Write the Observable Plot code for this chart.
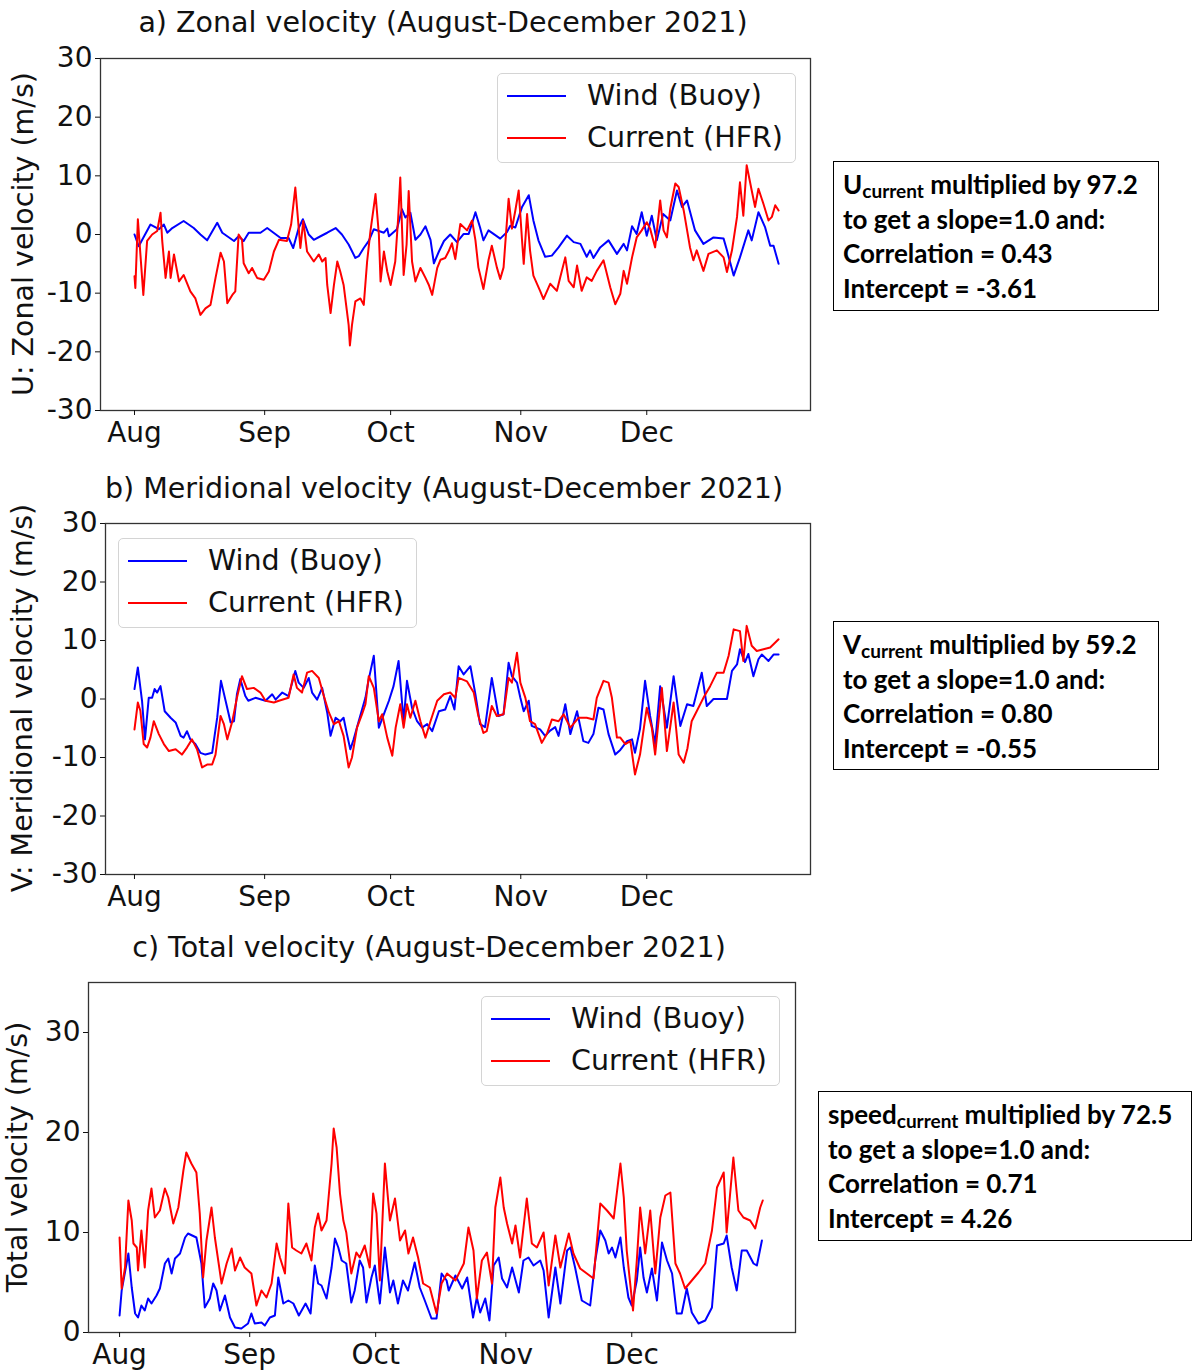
<!DOCTYPE html>
<html>
<head>
<meta charset="utf-8">
<script src="https://cdn.jsdelivr.net/npm/d3@7"></script>
<script src="https://cdn.jsdelivr.net/npm/@observablehq/plot@0.6"></script>
<style>
  body { margin: 0; background: #fff; }
  #page { position: relative; width: 1192px; height: 1372px; overflow: hidden; font-family: "DejaVu Sans", sans-serif; color: #111; }
  .abs { position: absolute; }
  .title { font-size: 28.5px; white-space: nowrap; transform: translate(-50%, -50%); }
  .ylab { font-size: 28.5px; white-space: nowrap; transform: translate(-50%, -50%) rotate(-90deg); }
  .legend { position: absolute; box-sizing: border-box; border: 1.5px solid #d4d4d4; border-radius: 5px; background: rgba(255,255,255,0.85); width: 299px; height: 90px; }
  .legend .item { position: absolute; left: 0; height: 30px; width: 100%; }
  .legend svg { position: absolute; left: 9px; top: 0; }
  .legend span { position: absolute; left: 89px; top: 0; line-height: 30px; font-size: 28.5px; white-space: nowrap; }
  .box { position: absolute; box-sizing: border-box; border: 1.5px solid #000; background: #fff; font-family: Lato, "Open Sans", sans-serif; font-weight: 700; font-size: 26px; line-height: 34.5px; padding: 5px 0 0 9px; color: #000; white-space: nowrap; }
  .box sub { font-size: 19px; vertical-align: -4px; line-height: 0; font-weight: 700; }
</style>
</head>
<body>
<div id="page"></div>
<script>
// ---------------- DATA (day offset from 1 Aug 2021, value) ----------------
const monthLabels = ["Aug", "Sep", "Oct", "Nov", "Dec"];
const seriesNames = ["Wind (Buoy)", "Current (HFR)"];

// a) Zonal velocity U (m/s)
const uWind = [[0,0],[1,-2],[3.8,1.7],[5.8,0.9],[7,1.7],[7.8,0.3],[9,1.1],[11.7,2.3],[14.1,1.1],[15.7,0],[17.3,-1],[19.7,2],[20.9,0.3],[23.7,-1.1],[24.8,-0.3],[26,-1.1],[27.2,0.3],[30,0.3],[31.6,1.1],[34.8,-0.6],[36.7,-0.6],[37.8,-2.3],[39.1,1.1],[40.1,2.6],[41.5,0],[42.7,-0.9],[44.3,-0.3],[45.9,0.3],[47.9,1.1],[49.4,0],[51,-1.7],[52.6,-4],[53.4,-3.7],[54.6,-2.3],[55.8,-1.1],[57,0.9],[59.4,0.3],[60.2,1],[60.6,-0.3],[62.5,0.9],[63.7,4.3],[64.5,2.9],[65.7,3.7],[66.9,-0.9],[68.1,0],[69.3,1.4],[70.5,-0.9],[71.3,-4.9],[72.5,-2.9],[73.7,-1.1],[75.2,0],[76.8,-1.3],[78.4,0.1],[79.6,0.1],[81.2,3.8],[82.3,1.2],[83.1,-1],[84.3,0.7],[85.5,0.1],[87.1,-0.7],[88.7,0.4],[89.5,1.5],[90.7,1.2],[92.3,4.7],[93.9,6.7],[95,2.4],[96.2,-1],[97.8,-3.8],[99.4,-3.6],[101,-2.2],[103,-0.2],[104.6,-1.3],[106.2,-1.6],[107.7,-3.8],[108.5,-2.7],[109.3,-4],[110.9,-2.2],[112.9,-1],[114.9,-3.3],[116.5,-1.6],[117.3,-2.7],[118.5,1.4],[119.6,0.1],[120.8,3.8],[122,-0.2],[123.2,3.2],[124.4,-1],[125.9,3.5],[127.6,2.4],[129.2,7.5],[130.4,4.7],[131.6,5.8],[133.5,0.7],[135.5,-1.6],[137.9,-0.5],[140.3,-0.7],[141.1,-2.7],[142.7,-7],[144.2,-3.9],[146.2,0.7],[147,-1],[148.6,3.8],[150.2,1.2],[151.4,-1.9],[152.2,-1.9],[153.4,-5]];
const uCurrent = [[0,-7.1],[0.2,-9.1],[0.8,2.6],[2.1,-10.3],[3,-1.1],[4.2,0],[5.4,0.6],[6.2,3.7],[6.6,-1.1],[7.4,-7.4],[8.2,-2.9],[8.6,-7.4],[9.4,-3.4],[10.6,-8],[11.7,-6.9],[13.3,-9.7],[14.5,-10.9],[15.7,-13.7],[16.9,-12.6],[18.1,-12],[19.3,-7.4],[20.5,-3.1],[21.3,-4.6],[22.1,-11.7],[23.3,-10.3],[24,-9.7],[24.8,0],[25.6,-0.9],[26,-4.9],[27.2,-6.6],[28,-5.7],[29.2,-7.4],[30.8,-7.7],[32,-6.3],[33.2,-2.9],[34.4,-0.9],[36.3,-1.1],[37.3,1.7],[38.3,8],[38.9,2.9],[39.5,-2.3],[40.2,2.3],[41.1,-2.9],[42.7,-4.6],[43.9,-3.4],[44.7,-4.6],[45.5,-4],[45.9,-8.6],[46.7,-13.4],[47.5,-8.6],[48.3,-4.6],[49,-6.3],[49.8,-8.6],[51,-15.4],[51.3,-18.9],[51.8,-15.4],[52.6,-11.4],[53.8,-10.9],[54.6,-12],[55.4,-4.6],[56.2,0.6],[57.4,6.9],[58.2,0],[58.6,-8],[59.4,-2.9],[60.2,-6.3],[61,-8.6],[62.1,-4.6],[62.8,2.9],[63.3,9.7],[64.1,-6.9],[64.8,-1.7],[65.3,7.4],[66.1,-4.6],[66.9,-8],[68.1,-5.7],[69.3,-7.4],[70.1,-8.6],[70.9,-10.3],[72.1,-5.7],[72.9,-4.3],[74,-4],[74.8,-2.9],[75.6,-1.5],[76.4,-4.2],[77.6,1.8],[79.2,0.7],[80.4,2.4],[81.2,-1],[81.9,-5.6],[83.1,-9.3],[84.3,-4.4],[85.1,-1.9],[86.3,-5.6],[87.1,-7.6],[87.9,-5.6],[88.3,-1.6],[89.1,6.1],[89.9,1],[90.7,4.1],[91.5,7.5],[92.3,-1],[92.7,-5],[93.5,3.5],[94.2,-2.7],[95,-7],[96.6,-9.6],[97.4,-11],[99,-8.4],[100.6,-9.6],[101.4,-7.3],[102.6,-3.9],[103.4,-7.9],[104.6,-9],[105.4,-5.3],[106.5,-9.6],[107.7,-7.3],[108.9,-7.9],[110.1,-6.2],[111.7,-4.4],[113.3,-9],[114.5,-11.9],[115.7,-10.1],[116.5,-6.2],[117.3,-8.4],[118.5,-3.9],[119.6,-0.5],[120.8,0.7],[122,2.1],[122.8,1],[124,-2.2],[125.2,5.8],[126,0.7],[126.8,-0.5],[127.6,4.4],[128.8,8.7],[129.6,8.1],[130.8,4.1],[132.3,-2.2],[133.1,-4.4],[133.9,-2.7],[135.5,-6.2],[136.7,-3.3],[138.7,-2.7],[140.3,-3.9],[141.1,-6.4],[142.3,-2.7],[143.5,3],[144.2,8.9],[145,3.2],[145.8,11.8],[147,7.5],[147.8,4.7],[148.6,7.8],[149.8,5.2],[151,2.4],[151.8,3],[152.6,5],[153.4,4.1]];

// b) Meridional velocity V (m/s)
const vWind = [[0,1.7],[0.8,5.4],[1.8,-0.3],[2.5,-6.9],[3.4,0.2],[4.2,0.2],[4.8,1.7],[5.4,1.1],[6.2,2.2],[7.2,-2.1],[8.6,-3.2],[9.8,-4],[11,-6.3],[11.7,-6.6],[12.5,-5.5],[13.3,-6.9],[14.5,-7.7],[15.7,-9.2],[16.9,-9.5],[18.5,-9.2],[19.7,-3.2],[20.6,3.1],[21.7,-0.3],[22.9,-4],[23.7,-3.8],[24.4,0.8],[25.2,3.4],[26.4,0.5],[27.1,-0.3],[28.8,0.2],[31.2,-0.3],[32.8,0.8],[33.6,-0.1],[35.2,1.1],[36.7,0.5],[38.3,4.8],[39.1,2.8],[40.3,1.9],[41.5,3.6],[42.3,1.1],[43.5,-0.1],[44.7,1.9],[45.9,-2.3],[46.7,-6.3],[47.9,-3.2],[49,-3.8],[49.8,-3.2],[50.6,-6],[51.4,-8.6],[52.2,-6.9],[53.4,-3.8],[55,0.2],[55.8,3.4],[57,7.4],[58.2,-4.9],[59.4,-2.6],[60.6,-0.3],[61.7,2.2],[62.9,6.5],[64.1,-3.8],[64.9,3.1],[66.1,-1.5],[67.3,-3.8],[68.5,-4.9],[69.7,-4.3],[70.9,-5.5],[72.5,-2.1],[74,-1.8],[75.2,0.5],[76.2,-1.8],[77.2,5.6],[78.4,4.2],[80,5.6],[81.2,0.8],[82.3,-4.3],[83.5,-4.8],[85.1,3.6],[86.7,-2.9],[87.9,-2.6],[89.1,6.2],[89.9,3.9],[91.1,2.8],[91.9,0.2],[92.7,-2.1],[93.9,-0.3],[94.6,-4.6],[96.6,-5.2],[97.8,-6.3],[99,-5.4],[100.2,-4.8],[101,-6.3],[102.6,-0.9],[103.8,-6],[105.4,-2.1],[106.9,-7.2],[108.1,-7.5],[109.3,-6],[110.5,-1.5],[111.7,-1.8],[112.9,-6],[114.5,-9.5],[115.7,-8.7],[117.3,-7.2],[118.5,-6.9],[119.2,-9.2],[120.4,-5.1],[121.6,3.1],[122.8,-2.9],[124,-7.7],[125.2,2.2],[126.8,-4.9],[128.4,3.9],[130,-4.6],[131.6,-0.9],[133.1,-1.2],[135.1,4.5],[136.3,-1.2],[137.9,0],[139.5,0],[141.1,0],[142.3,4.8],[143.5,5.9],[144.2,8.5],[145.4,6.3],[146.2,7.7],[147.4,3.9],[148.6,6.8],[149.4,7.6],[151,6.5],[152.2,7.6],[153.4,7.6]];
const vCurrent = [[0,-5.2],[0.8,-0.6],[1.4,-2],[2.2,-7.7],[3,-8.3],[3.8,-6.6],[4.6,-3.8],[5.8,-6],[7,-7.7],[8.2,-8.9],[9.8,-8.6],[11.3,-9.5],[12.5,-8.3],[13.7,-6.9],[14.9,-8.6],[16.1,-11.7],[17.3,-11.2],[18.5,-11.2],[19.3,-9.5],[20.5,-2.9],[21.3,-4.3],[22.1,-6.9],[23.3,-3.8],[24.4,0.2],[25.6,3.9],[26.8,1.7],[28.4,1.9],[30,1.1],[31.2,-0.3],[33.2,-0.6],[34.4,-0.3],[36.7,0.2],[37.9,4.2],[38.7,1.9],[39.9,1.1],[41.1,4.5],[42.3,4.8],[43.9,3.6],[45.1,0.5],[46.3,-2.3],[47.5,-4.3],[48.7,-3.8],[49.8,-6.3],[51,-11.7],[51.8,-10],[53,-4.9],[54.2,-2.6],[55,-0.9],[55.8,3.9],[57,1.9],[58.2,-3.8],[59,-2.6],[60.2,-6.6],[61.4,-9.7],[62.2,-4.9],[63.3,-0.9],[64.1,-4.9],[64.9,-0.9],[65.7,-3.2],[66.9,-0.3],[68.1,-3.8],[69.3,-6.6],[70.5,-3.8],[72.1,-0.3],[73.7,0.8],[75.2,1.1],[76.4,0.2],[77.2,3.6],[79.2,3],[80.8,1.1],[81.9,-2.9],[83.1,-5.8],[83.9,-5.5],[85.1,-1.2],[86.3,-2.9],[87.9,-2.6],[89.1,3.6],[89.9,2.8],[91.1,7.9],[91.9,2.8],[93.1,0.2],[94.2,-3.8],[95.4,-4.3],[97,-7.5],[98.2,-6],[99.4,-3.5],[101,-3.8],[102.2,-2.6],[103.8,-4.9],[105.8,-3.2],[107.7,-3.2],[109.3,-3.5],[110.1,0.2],[111.7,3.1],[112.9,2.8],[113.7,0.2],[114.9,-6.6],[115.7,-6.6],[116.9,-7.7],[118.1,-7.2],[119.2,-12.9],[120.4,-9.5],[122,-1.5],[123.2,-4.9],[124,-9.5],[125.6,1.9],[126.8,-8.9],[128.4,-0.6],[129.6,-9.5],[130.8,-10.9],[131.7,-8.4],[132.7,-3.8],[133.9,-2.1],[135.5,0.2],[137.1,2.2],[138.7,4.5],[140.3,4.5],[141.5,7.4],[142.7,11.9],[144.2,11.6],[145,6.5],[145.8,12.5],[147,9.1],[148.2,8.2],[149.8,8.5],[151.4,8.8],[153.4,10.2]];

// c) Total velocity (m/s)
const sWind = [[0,1.7],[0.5,4.2],[2.1,7.9],[2.9,4.5],[3.7,1.9],[4.4,1.5],[5.2,2.7],[6,2.2],[6.8,3.4],[7.6,2.9],[8.8,3.7],[9.6,4.4],[10.8,6.9],[11.6,7.4],[12.4,5.9],[13.2,7.4],[14.4,7.9],[15.6,9.5],[16.3,9.9],[18.3,9.5],[19.5,6.9],[20.3,2.5],[21.5,3.4],[22.3,4.9],[23.1,4.2],[23.9,2.2],[25.1,3.7],[26.3,1.5],[27.5,0.5],[29,0.4],[30.6,0.9],[31.4,1.9],[32.2,0.9],[33.8,1],[34.6,0.7],[35.8,1.5],[37,1.7],[37.8,5.5],[39,2.9],[40.2,3.2],[41.4,2.9],[42.7,1.7],[44.3,2.9],[45.5,1.9],[46.5,6.7],[47.3,4.9],[48.1,4.7],[49.3,3.4],[50.5,6.5],[51.3,9.4],[52.1,8.5],[52.9,7.2],[54,6.9],[55.2,3],[56,4.2],[57.2,7.2],[58,6.5],[58.8,3],[60,5.5],[60.8,6.7],[62,2.9],[63.2,8.5],[64.4,4],[65.2,5.2],[66.3,2.9],[67.5,5.2],[68.7,4.2],[70.3,7],[71.5,4.5],[72.7,3.2],[74.3,1.4],[75.5,1.4],[76.7,5.9],[77.9,5.2],[78.4,4.2],[80,5.7],[81.6,4.4],[82.8,5.5],[84.2,1.5],[85.1,3.5],[85.9,2],[87.1,3.4],[88.1,1.2],[89.1,6.7],[90.3,7.5],[91.1,5.4],[92.3,4.5],[93.5,6.5],[95.1,4],[96.2,7.2],[97.4,7.5],[98.6,6.7],[100.2,7.2],[101,6.2],[102.2,1.5],[103.8,6.5],[105,2.9],[106.6,8.2],[107.4,8.5],[108.5,6.5],[110.1,3.2],[112.1,2.7],[113.3,7.2],[114.5,10.2],[115.7,9.2],[116.5,7.9],[117.3,8.5],[118.1,7.5],[119.3,9.5],[120.1,6.5],[121.2,3.5],[122,2.7],[123.2,5.2],[124,8.5],[124.8,5.5],[125.6,4],[126.8,6.4],[128,3.2],[129.2,9],[130.4,7.2],[131.6,5.9],[132.7,1.9],[133.9,1.9],[135.1,4.4],[136.3,2],[137.9,0.9],[139.5,1.2],[141.1,2.5],[142.3,8.7],[143.9,8.9],[144.6,9.7],[145.8,6.5],[147,4.2],[148.2,8.2],[149.4,8.2],[151,6.9],[151.8,6.7],[153,9.2]];
const sCurrent = [[0,9.5],[0.5,4.4],[1.3,6.5],[2.1,13.2],[2.9,11.2],[3.3,8.9],[4.1,8.5],[4.4,6.2],[5.2,10.2],[6,6.5],[6.8,12.2],[7.6,14.4],[8.4,11.5],[9.6,12.2],[10.8,14.4],[11.6,13.5],[12.8,10.9],[14,12.5],[15.2,16.2],[15.9,18],[17.1,16.9],[18.3,16],[19.1,11.9],[19.9,5.5],[20.7,9.2],[21.9,12.5],[22.7,9.5],[24.3,4.9],[25.5,6.9],[26.7,8.4],[27.5,6.2],[28.7,7.5],[29.8,6.5],[31.4,5.9],[32.6,2.7],[33.8,4.2],[35,3.5],[36.2,4.9],[37.4,8.9],[38.2,7.5],[39.4,5.9],[40.2,12.9],[41.1,8.5],[42.1,8.2],[43.3,7.9],[44.5,8.9],[45.7,7.2],[46.5,10.5],[47.3,11.9],[48.1,10.2],[49.3,11.2],[50.5,16.9],[51,20.4],[51.7,18.5],[52.5,13.9],[53.3,11.2],[54,10],[55.2,5.9],[56.4,8],[57.2,7.5],[58.4,8.7],[59.6,6.5],[60.4,13.9],[61.2,11.9],[62,5.2],[63.2,16.9],[64.4,11.2],[65.6,13.4],[66.8,9.2],[68,10.2],[68.8,7.9],[69.9,9.5],[71.1,7.5],[72.3,4.9],[73.9,4.5],[75.5,1.9],[76.7,4.9],[78,5.9],[80,5.2],[82,6.9],[83.1,10.5],[84.3,8.2],[85.1,3.4],[86.3,7.2],[87.5,8],[88.7,4.9],[89.5,12.5],[90.7,15.5],[91.5,12.5],[92.3,10.9],[93.5,8.9],[94.3,10.7],[95.4,7.5],[97,13.4],[98.2,8.9],[99.4,8.5],[101,10],[102.2,4.7],[103.8,9.7],[105,6.5],[107,9.9],[108.1,7.9],[109.7,6.4],[111.3,5.9],[112.9,5.4],[114.5,12.9],[116.1,12.2],[117.7,11.4],[119.3,16.9],[120.1,13.5],[120.8,8.2],[122.3,2.2],[123.2,7.2],[124,12.5],[125.2,7.9],[126.4,12.2],[127.6,5.9],[128.8,11.5],[130,13.7],[131.2,14],[132.4,6.9],[133.5,5.9],[134.7,4.4],[136.3,5.2],[137.9,6],[139.5,6.9],[141.1,10.2],[142.3,14.5],[143.9,16],[144.6,10],[146.2,17.5],[147.4,12.2],[148.6,11.5],[150.2,11.2],[151.4,10.4],[152.6,12.5],[153.2,13.2]];

const uTicks = [-30, -20, -10, 0, 10, 20, 30];
const sTicks = [0, 10, 20, 30];

// ---------------- RENDER ----------------
const DAY = 86400000;
const t0 = Date.UTC(2021, 7, 1);
const toDate = d => new Date(t0 + d * DAY);
const monthTicks = [7, 8, 9, 10, 11].map(m => new Date(Date.UTC(2021, m, 1)));
const fmtY = d => d < 0 ? "-" + (-d) : String(d);
const fmtX = d => monthLabels[d.getUTCMonth() - 7];
const page = document.getElementById("page");

function rows(arr) { return arr.map(([d, v]) => ({date: toDate(d), v})); }

function panel(cfg) {
  const svg = Plot.plot({
    width: cfg.width, height: cfg.height,
    marginLeft: cfg.ml, marginRight: cfg.mr, marginTop: cfg.mt, marginBottom: cfg.mb,
    style: {fontFamily: "DejaVu Sans", fontSize: "28px", color: "#111", background: "transparent", overflow: "visible"},
    x: {type: "utc", domain: [toDate(cfg.x0), toDate(cfg.x1)]},
    y: {domain: cfg.yDomain},
    marks: [
      Plot.line(rows(cfg.wind), {x: "date", y: "v", stroke: "#0000ff", strokeWidth: 2}),
      Plot.line(rows(cfg.current), {x: "date", y: "v", stroke: "#ff0000", strokeWidth: 2}),
      Plot.frame({stroke: "#333", strokeWidth: 1.3}),
      Plot.axisX({ticks: monthTicks, tickFormat: fmtX, tickSize: 5, tickPadding: 7, label: null, fontSize: 28}),
      Plot.axisY({ticks: cfg.yTicks, tickFormat: fmtY, tickSize: 5, tickPadding: 3, label: null, fontSize: 28})
    ]
  });
  svg.style.position = "absolute";
  svg.style.left = cfg.left + "px";
  svg.style.top = cfg.top + "px";
  page.appendChild(svg);
}

panel({wind: uWind, current: uCurrent, yDomain: [-30, 30], yTicks: uTicks, x0: -8.1, x1: 161,
  left: 0, top: 0, width: 830, height: 455, ml: 100, mr: 20, mt: 58, mb: 45});
panel({wind: vWind, current: vCurrent, yDomain: [-30, 30], yTicks: uTicks, x0: -6.9, x1: 161,
  left: 0, top: 465, width: 830, height: 454, ml: 105, mr: 20, mt: 58, mb: 45});
panel({wind: sWind, current: sCurrent, yDomain: [0, 35], yTicks: sTicks, x0: -7.4, x1: 161,
  left: 0, top: 925, width: 830, height: 447, ml: 88, mr: 35, mt: 57, mb: 40});

function addDiv(cls, html, x, y) {
  const d = document.createElement("div");
  d.className = cls; d.innerHTML = html;
  d.style.left = x + "px"; d.style.top = y + "px";
  page.appendChild(d); return d;
}
// titles
addDiv("abs title", "a) Zonal velocity (August-December 2021)", 443, 22);
addDiv("abs title", "b) Meridional velocity (August-December 2021)", 444, 488);
addDiv("abs title", "c) Total velocity (August-December 2021)", 429, 947);
// y labels
addDiv("abs ylab", "U: Zonal velocity (m/s)", 23, 234);
addDiv("abs ylab", "V: Meridional velocity (m/s)", 22, 698);
addDiv("abs ylab", "Total velocity (m/s)", 17, 1157);

// legends
function legend(x, y) {
  const colors = ["#0000ff", "#ff0000"];
  const html = seriesNames.map((n, i) =>
    `<div class="item" style="top:${7 + i * 42}px"><svg width="60" height="30"><line x1="0" x2="59" y1="15" y2="15" stroke="${colors[i]}" stroke-width="1.8"/></svg><span>${n}</span></div>`).join("");
  addDiv("legend", html, x, y);
}
legend(497, 73);
legend(118, 538);
legend(481, 996);

// stats boxes
function box(x, y, w, h, name, k, corr, icpt) {
  const d = addDiv("box", `${name}<sub>current</sub> multiplied by ${k}<br>to get a slope=1.0 and:<br>Correlation = ${corr}<br>Intercept = ${icpt}`, x, y);
  d.style.width = w + "px"; d.style.height = h + "px";
}
box(833, 161, 326, 150, "U", "97.2", "0.43", "-3.61");
box(833, 621, 326, 149, "V", "59.2", "0.80", "-0.55");
box(818, 1091, 374, 150, "speed", "72.5", "0.71", "4.26");
</script>
</body>
</html>
